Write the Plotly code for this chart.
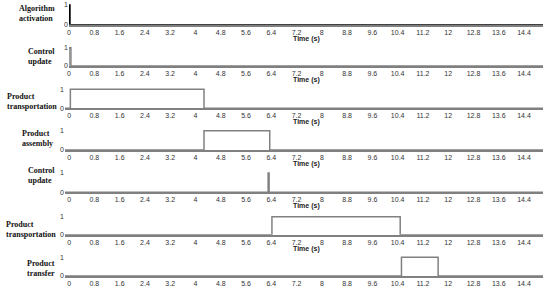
import plotly.graph_objects as go

# ---- data ----
row_labels = ["Algorithm<br>activation", "Control<br>update", "Product<br>transportation",
              "Product<br>assembly", "Control<br>update", "Product<br>transportation",
              "Product<br>transfer"]
alg_t = [0, 0, 0.03, 15]
alg_v = [0, 1, 0, 0]
ctrl1_t = [0, 0, 0.06, 15]
ctrl1_v = [0, 1, 0, 0]
trans1_t = [-0.13, 0.04, 4.27, 15]
trans1_v = [0, 1, 0, 0]
assem_t = [-0.13, 4.27, 6.35, 15]
assem_v = [0, 1, 0, 0]
ctrl2_t = [-0.13, 6.3, 6.33, 15]
ctrl2_v = [0, 1, 0, 0]
trans2_t = [-0.13, 6.42, 10.48, 15]
trans2_v = [0, 1, 0, 0]
transfer_t = [-0.13, 10.52, 11.68, 15]
transfer_v = [0, 1, 0, 0]
x_ticks = [round(0.8 * i, 1) for i in range(19)]
x_ticktext = [("%g" % v) for v in x_ticks]

series = [(alg_t, alg_v), (ctrl1_t, ctrl1_v), (trans1_t, trans1_v), (assem_t, assem_v),
          (ctrl2_t, ctrl2_v), (trans2_t, trans2_v), (transfer_t, transfer_v)]
colors = ["#000000"] + ["#808080"] * 6

# ---- layout geometry (pixels) ----
W, H = 550, 296
zero_px = [24.7, 66, 108.3, 150, 192.3, 234.7, 276]
one_px = [5, 47.7, 89.3, 130.7, 173, 216.7, 257.3]
label_cy = [14, 57, 102, 138, 175, 230, 268]
label_right = [57, 57, 58.7, 55, 57, 58, 57]
YTOP = 1.08

fig = go.Figure()
layout = dict(width=W, height=H, margin=dict(l=0, r=0, t=0, b=0, autoexpand=False),
              paper_bgcolor="white", plot_bgcolor="white", showlegend=False,
              font=dict(family="Arial, Liberation Sans", size=7, color="#333"))
annotations = []
for i, ((t, v), c) in enumerate(zip(series, colors)):
    n = i + 1
    xa = "x" if n == 1 else "x%d" % n
    ya = "y" if n == 1 else "y%d" % n
    fig.add_trace(go.Scatter(x=t, y=v, mode="lines", line=dict(color=c, width=1.5, shape="hv"),
                             xaxis=xa, yaxis=ya, hoverinfo="skip"))
    z, o = zero_px[i], one_px[i]
    top = o - (YTOP - 1) * (z - o)
    if i < 2:
        xdom = [69 / W, 543 / W]
        xr = [0, 15]
    else:
        xdom = [65 / W, 543 / W]
        xr = [-0.13, 15]
    layout["xaxis" if n == 1 else "xaxis%d" % n] = dict(
        domain=xdom, range=xr, anchor=ya, showline=True, linecolor="#808080", linewidth=1.5,
        showgrid=False, zeroline=False, ticks="", tickvals=x_ticks, ticktext=x_ticktext,
        tickfont=dict(size=7, color="#333"), fixedrange=True, automargin=False)
    layout["yaxis" if n == 1 else "yaxis%d" % n] = dict(
        domain=[1 - z / H, 1 - top / H], range=[0, YTOP], anchor=xa, showline=False,
        showgrid=False, zeroline=False, ticks="", tickvals=[0, 1], ticktext=["0", "1"],
        tickfont=dict(size=7, color="#333"), fixedrange=True, automargin=False)
    annotations.append(dict(text="<b>" + row_labels[i] + "</b>", xref="paper", yref="paper",
                            x=label_right[i] / W, y=1 - label_cy[i] / H, xanchor="right",
                            yanchor="middle", align="left", showarrow=False,
                            font=dict(family="Liberation Serif", size=8, color="#111")))
    if i < 6:
        annotations.append(dict(text="<b>Time (s)</b>", xref="paper", yref="paper",
                                x=306 / W, y=1 - (z + 14) / H, xanchor="center", yanchor="middle",
                                showarrow=False,
                                font=dict(family="Arial, Liberation Sans", size=7, color="#222")))
layout["annotations"] = annotations
fig.update_layout(**layout)
fig.write_html("out.html", config={"displayModeBar": False},
               post_script="document.body.style.margin='0';")
